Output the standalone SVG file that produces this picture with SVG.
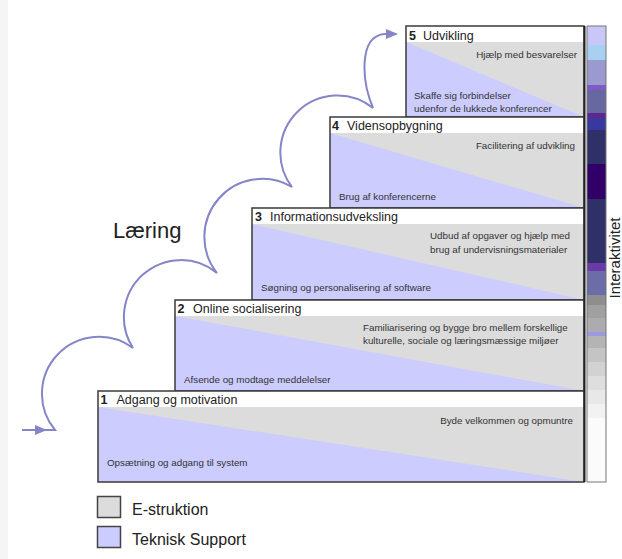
<svg xmlns="http://www.w3.org/2000/svg" width="622" height="559" viewBox="0 0 622 559">
<style>
.box{stroke:#3a3a3a;stroke-width:1.5}
.gray{fill:#dcdcdc}
.lav{fill:#ccccff}
.hdr{fill:#ffffff}
.num{font-family:"Liberation Sans",Arial,sans-serif;font-size:12.5px;font-weight:bold;fill:#222}
.ttl{font-family:"Liberation Sans",Arial,sans-serif;font-size:12.5px;fill:#222}
.body{font-family:"Liberation Sans",Arial,sans-serif;font-size:9.8px;fill:#333}
.leg{font-family:"Liberation Sans",Arial,sans-serif;font-size:16px;fill:#222}
.conn{fill:none;stroke:#8585c8;stroke-width:2}
.head{fill:#8585c8}
</style>
<rect x="0" y="0" width="622" height="559" fill="#ffffff"/>
<rect x="0" y="0" width="8" height="559" fill="#f5f5f5"/>

<g id="connectors">
<path class="conn" d="M22,430 H55 A57 57 0 0 1 133,348 A57 57 0 0 1 217,273 A58 58 0 0 1 292,187 A57 57 0 0 1 373,108 C362,82 358,37 384,34 H396"/>
<polygon class="head" points="47,430 35,425 35,435"/>
<polygon class="head" points="398,34 386,29 386,39"/>
</g>

<text x="113" y="238" font-family="Liberation Sans, Arial, sans-serif" font-size="22" fill="#222">Læring</text>

<g id="stage5">
<rect class="gray" x="406" y="26" width="178" height="91"/>
<polygon class="lav" points="406,42 584,117 406,117"/>
<rect class="hdr" x="406" y="26" width="178" height="16"/>
<rect class="box" x="406" y="26" width="178" height="91" fill="none"/>
<text class="num" x="409" y="40">5</text>
<text class="ttl" x="423" y="40">Udvikling</text>
<text class="body" x="577" y="57.5" text-anchor="end">Hjælp med besvarelser</text>
<text class="body" x="414" y="99">Skaffe sig forbindelser</text>
<text class="body" x="414" y="112">udenfor de lukkede konferencer</text>
</g>

<g id="stage4">
<rect class="gray" x="330" y="117" width="254" height="91"/>
<polygon class="lav" points="330,133 584,208 330,208"/>
<rect class="hdr" x="330" y="117" width="254" height="16"/>
<rect class="box" x="330" y="117" width="254" height="91" fill="none"/>
<text class="num" x="332" y="130">4</text>
<text class="ttl" x="347" y="130">Vidensopbygning</text>
<text class="body" x="575" y="148.5" text-anchor="end">Facilitering af udvikling</text>
<text class="body" x="339" y="199.5">Brug af konferencerne</text>
</g>

<g id="stage3">
<rect class="gray" x="252" y="208" width="332" height="92"/>
<polygon class="lav" points="252,224 584,300 252,300"/>
<rect class="hdr" x="252" y="208" width="332" height="16"/>
<rect class="box" x="252" y="208" width="332" height="92" fill="none"/>
<text class="num" x="255" y="221">3</text>
<text class="ttl" x="270" y="221">Informationsudveksling</text>
<text class="body" x="430" y="239">Udbud af opgaver og hjælp med</text>
<text class="body" x="430" y="252.5">brug af undervisningsmaterialer</text>
<text class="body" x="261" y="291">Søgning og personalisering af software</text>
</g>

<g id="stage2">
<rect class="gray" x="175" y="300" width="409" height="91"/>
<polygon class="lav" points="175,316 584,391 175,391"/>
<rect class="hdr" x="175" y="300" width="409" height="16"/>
<rect class="box" x="175" y="300" width="409" height="91" fill="none"/>
<text class="num" x="177.5" y="313">2</text>
<text class="ttl" x="193" y="313">Online socialisering</text>
<text class="body" x="363" y="330.5">Familiarisering og bygge bro mellem forskellige</text>
<text class="body" x="363" y="344">kulturelle, sociale og læringsmæssige miljøer</text>
<text class="body" x="184" y="382.5">Afsende og modtage meddelelser</text>
</g>

<g id="stage1">
<rect class="gray" x="98" y="391" width="486" height="91"/>
<polygon class="lav" points="98,407 584,482 98,482"/>
<rect class="hdr" x="98" y="391" width="486" height="16"/>
<rect class="box" x="98" y="391" width="486" height="91" fill="none"/>
<text class="num" x="100.5" y="404">1</text>
<text class="ttl" x="116.5" y="404">Adgang og motivation</text>
<text class="body" x="573" y="423.5" text-anchor="end">Byde velkommen og opmuntre</text>
<text class="body" x="107" y="466">Opsætning og adgang til system</text>
</g>

<line x1="584.5" y1="26" x2="584.5" y2="482" stroke="#222" stroke-width="2"/>

<g id="interaktivitet-bar">
<rect x="587" y="26" width="19" height="456" fill="#fbfbfb"/>
<rect x="587" y="26" width="19" height="19" fill="#c8c8f8"/>
<rect x="587" y="45" width="19" height="15" fill="#a8d0f0"/>
<rect x="587" y="60" width="19" height="25" fill="#9a9ad0"/>
<rect x="587" y="85" width="19" height="5" fill="#8058c8"/>
<rect x="587" y="90" width="19" height="23" fill="#6868a0"/>
<rect x="587" y="113" width="19" height="5" fill="#5a2890"/>
<rect x="587" y="118" width="19" height="12" fill="#3838a0"/>
<rect x="587" y="130" width="19" height="34" fill="#303068"/>
<rect x="587" y="164" width="19" height="35" fill="#300068"/>
<rect x="587" y="199" width="19" height="64" fill="#303068"/>
<rect x="587" y="263" width="19" height="8" fill="#6a3aa8"/>
<rect x="587" y="271" width="19" height="24" fill="#6c6ca8"/>
<rect x="587" y="295" width="19" height="10" fill="#8e8e8e"/>
<rect x="587" y="305" width="19" height="13" fill="#a0a0a0"/>
<rect x="587" y="318" width="19" height="14" fill="#acacb0"/>
<rect x="587" y="332" width="19" height="4" fill="#9a9ae0"/>
<rect x="587" y="336" width="19" height="12" fill="#b4b4b4"/>
<rect x="587" y="348" width="19" height="14" fill="#c4c4c4"/>
<rect x="587" y="362" width="19" height="14" fill="#d2d2d2"/>
<rect x="587" y="376" width="19" height="14" fill="#dedede"/>
<rect x="587" y="390" width="19" height="14" fill="#e8e8e8"/>
<rect x="587" y="404" width="19" height="14" fill="#f2f2f2"/>
<rect x="587" y="26" width="19" height="456" fill="none" stroke="#777" stroke-width="1"/>
<text transform="translate(620,258) rotate(-90)" text-anchor="middle" font-family="Liberation Sans, Arial, sans-serif" font-size="15" fill="#222">Interaktivitet</text>
</g>

<g id="legend">
<rect x="97.5" y="496.5" width="23" height="21" class="gray" stroke="#444" stroke-width="1.5"/>
<text class="leg" x="132" y="515">E-struktion</text>
<rect x="97.5" y="526.5" width="23" height="21" class="lav" stroke="#444" stroke-width="1.5"/>
<text class="leg" x="132" y="545">Teknisk Support</text>
</g>
</svg>
